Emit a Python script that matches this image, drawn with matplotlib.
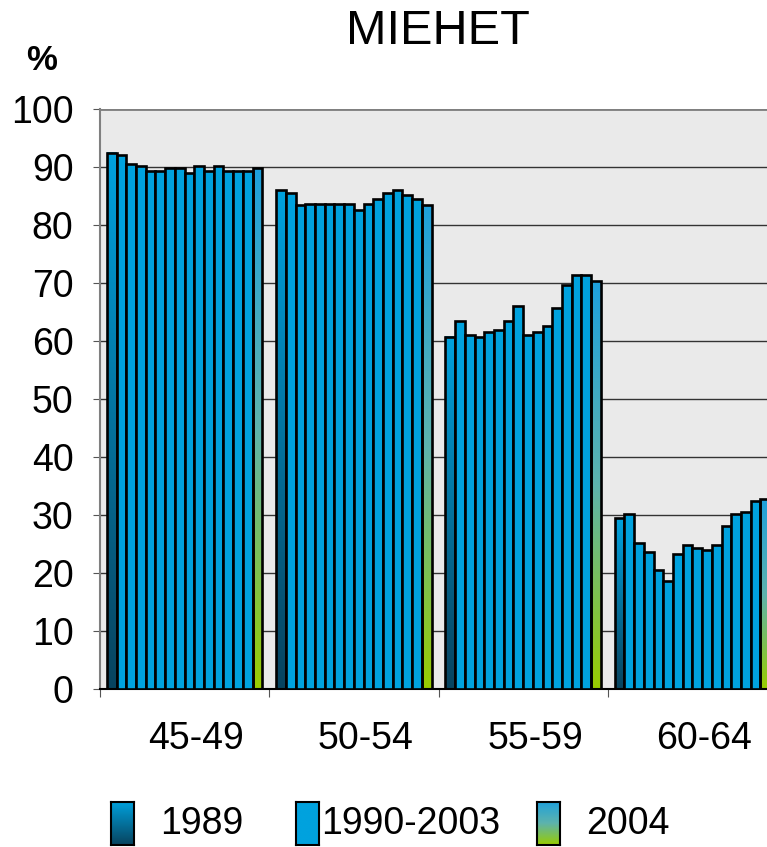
import numpy as np
import matplotlib.pyplot as plt
from matplotlib.colors import LinearSegmentedColormap

plt.rcParams['font.family'] = ['Liberation Sans', 'DejaVu Sans']

# age groups, years 1989..2004 in each group
groups = ['45-49', '50-54', '55-59', '60-64']
years = list(range(1989, 2005))

m45_49 = [92.5, 92.1, 90.5, 90.2, 89.3, 89.3, 89.8, 89.8, 89.0, 90.2, 89.3, 90.2, 89.3, 89.3, 89.3, 89.8]
m50_54 = [86.0, 85.6, 83.4, 83.7, 83.7, 83.7, 83.7, 83.7, 82.6, 83.7, 84.5, 85.6, 86.0, 85.2, 84.5, 83.4]
m55_59 = [60.7, 63.4, 61.0, 60.7, 61.5, 61.9, 63.4, 66.1, 61.0, 61.5, 62.6, 65.7, 69.6, 71.4, 71.4, 70.3]
m60_64 = [29.4, 30.1, 25.2, 23.6, 20.6, 18.6, 23.2, 24.8, 24.3, 24.0, 24.8, 28.1, 30.1, 30.5, 32.4, 32.7]
values = [m45_49, m50_54, m55_59, m60_64]

legend_labels = ['1989', '1990-2003', '2004']

blue = '#00a2de'
cmap_first = LinearSegmentedColormap.from_list('first', ['#08435e', blue])
cmap_last = LinearSegmentedColormap.from_list('last', ['#99cc00', '#5db3ad', '#1ea0dc'])

fig = plt.figure(figsize=(7.67, 8.47), dpi=100)
ax = fig.add_axes([100/767, 158/847, 677/767, 580/847])
ax.set_facecolor('#eaeaea')

n = len(years)
margin = 0.041
w = (1 - 2*margin) / n
grad = np.linspace(0, 1, 256).reshape(-1, 1)

for gi, vals in enumerate(values):
    lefts = gi + margin + w*np.arange(n)
    for j, (x0, v) in enumerate(zip(lefts, vals)):
        if j == 0:
            ax.imshow(grad, cmap=cmap_first, origin='lower', aspect='auto',
                      extent=[x0, x0 + w, 0, v], zorder=2)
        elif j == n - 1:
            ax.imshow(grad, cmap=cmap_last, origin='lower', aspect='auto',
                      extent=[x0, x0 + w, 0, v], zorder=2)
    colors = ['none'] + [blue]*(n-2) + ['none']
    ax.bar(lefts, vals, width=w, align='edge', color=colors,
           edgecolor='black', linewidth=1.9, zorder=3)

ax.set_xlim(0, 4)
ax.set_ylim(0, 100)
ax.set_yticks(range(0, 101, 10))
ax.yaxis.grid(True, color='#333333', linewidth=1.0, zorder=1)
ax.set_axisbelow(True)

ax.set_xticks([0, 1, 2, 3, 4])
ax.set_xticklabels([])
ax.set_xticks([i + 0.57 for i in range(4)], minor=True)
ax.set_xticklabels(groups, minor=True)
ax.tick_params(axis='x', which='major', length=6, color='#555555')
ax.tick_params(axis='x', which='minor', length=0, pad=23, labelsize=27)
ax.tick_params(axis='y', length=5, color='#555555', pad=14, labelsize=27)

for s in ['top', 'right']:
    ax.spines[s].set_visible(False)
ax.spines['left'].set_color('#808080')
ax.spines['left'].set_linewidth(1.5)
ax.spines['bottom'].set_color('black')
ax.spines['bottom'].set_linewidth(1.5)
ax.axhline(100, color='#808080', linewidth=2, zorder=1)

fig.text(438/767, 1 - 31/847, 'MIEHET', ha='center', va='center', fontsize=35)
fig.text(42/767, 1 - 60/847, '%', ha='center', va='center', fontsize=25, fontweight='bold')

# legend drawn by hand so the gradient swatches show
swatches = [cmap_first, None, cmap_last]
patch_x = [111, 296, 537]
text_x = [160, 321, 586]
for cm, px, tx, lab in zip(swatches, patch_x, text_x, legend_labels):
    lax = fig.add_axes([px/767, 1 - 845/847, 23/767, 43/847])
    if cm is None:
        lax.imshow(grad, cmap=LinearSegmentedColormap.from_list('mid', [blue, blue]),
                   origin='lower', aspect='auto')
    else:
        lax.imshow(grad, cmap=cm, origin='lower', aspect='auto')
    lax.set_xticks([])
    lax.set_yticks([])
    for s in lax.spines.values():
        s.set_linewidth(1.5)
    fig.text(tx/767, 1 - 824/847, lab, ha='left', va='center', fontsize=27)

fig.savefig('out.png', dpi=100)
